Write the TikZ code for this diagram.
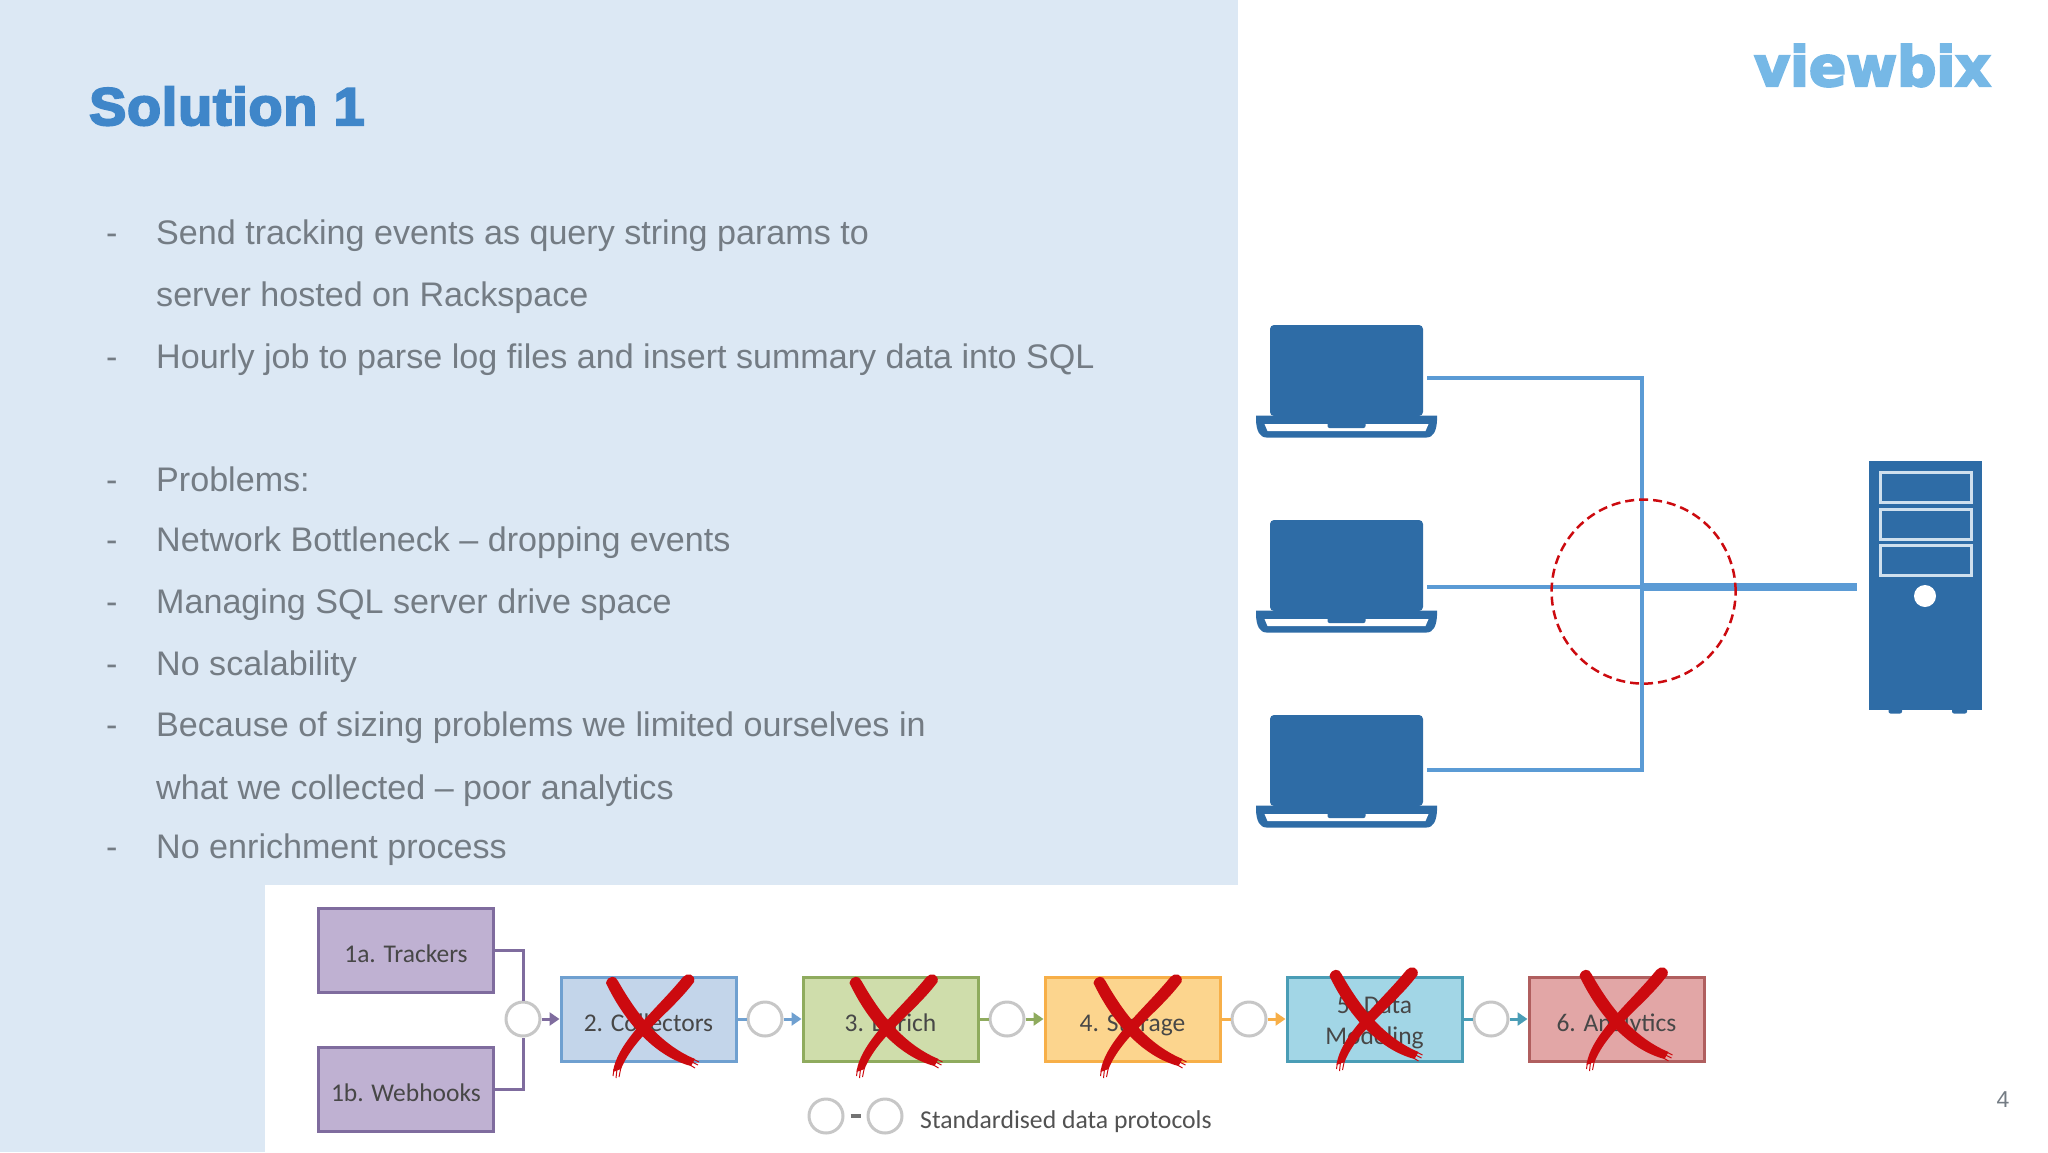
\documentclass[tikz,border=0pt]{standalone}
\usepackage{fontspec}
\setmainfont{Liberation Sans}
\newfontfamily\headfont[FakeBold=4,FakeStretch=1.05,LetterSpace=1.5]{Liberation Sans Bold}
\newfontfamily\logofont[FakeBold=4]{DejaVu Sans Bold}
\newfontfamily\boxfont{Carlito}
\usetikzlibrary{positioning,arrows.meta,calc}
\definecolor{panelblue}{HTML}{DCE8F4}
\definecolor{headblue}{HTML}{3F86C9}
\definecolor{logoblue}{HTML}{76B8E6}
\definecolor{bodygrey}{HTML}{747C84}
\definecolor{devblue}{HTML}{2E6CA6}
\definecolor{slotline}{HTML}{CFE0EE}
\definecolor{wireblue}{HTML}{5B9BD5}
\definecolor{crossred}{HTML}{CC0A0F}
\definecolor{srcline}{HTML}{7F6C9E}
\definecolor{srcfill}{HTML}{BFB1D2}
\definecolor{colline}{HTML}{6FA0D0}
\definecolor{colfill}{HTML}{C3D5EA}
\definecolor{enrline}{HTML}{8FAB5E}
\definecolor{enrfill}{HTML}{CFDDAB}
\definecolor{stoline}{HTML}{F7AF48}
\definecolor{stofill}{HTML}{FCD58E}
\definecolor{modline}{HTML}{4A9DB6}
\definecolor{modfill}{HTML}{A2D6E6}
\definecolor{analine}{HTML}{B05F5F}
\definecolor{anafill}{HTML}{E2A6A6}

\begin{document}
\begin{tikzpicture}[
  x=1pt, y=-1pt,
  node distance=64pt,
  every node/.style={inner sep=0pt},
  bodyline/.style={anchor=base west, font=\fontsize{34.1}{40}\selectfont, text=bodygrey},
  laptop/.style={fill=devblue, rounded corners=4pt, minimum width=153pt, minimum height=91pt, outer sep=4pt},
  wire/.style={draw=wireblue, line width=4pt},
  stage/.style={line width=3pt, minimum width=175pt, minimum height=84pt, align=center,
              text=black!72, font=\boxfont\fontsize{25.5}{31}\selectfont,
              text height=31pt, text depth=7pt},
  port/.style={circle, draw=black!22, fill=white, line width=3pt, minimum size=34pt},
  feed/.style={line width=3pt},
  arr/.style={line width=3pt, -{Triangle[length=10pt,width=13pt]}}
]
\useasboundingbox (0,0) rectangle (2048,1152);

% slide background
\fill[panelblue] (0,0) rectangle (1238,885);
\fill[panelblue] (0,885) rectangle (265,1152);

% heading and logo
\node[anchor=base west, font=\headfont\fontsize{53}{60}\selectfont, text=headblue] (title) at (89,125) {Solution 1};
\node[anchor=base west, font=\logofont\fontsize{55}{60}\selectfont, text=logoblue] (logo) at (1754,86) {viewbix};
\node[font=\fontsize{23}{26}\selectfont, text=bodygrey] (pagenum) at (2003,1100) {4};

% text with a dash
\foreach \y/\txt [count=\i] in {244/Send tracking events as query string params to,
    368/Hourly job to parse log files and insert summary data into SQL,
    491/Problems:,
    551/Network Bottleneck – dropping events,
    613/Managing SQL server drive space,
    675/No scalability,
    736.5/Because of sizing problems we limited ourselves in,
    858/No enrichment process}{
  \node[bodyline] (dash\i) at (106,\y) {-};
  \node[bodyline] (line\i) at (156,\y) {\txt};
}
% text going on from the line above
\node[bodyline] (more1) at (156,306) {server hosted on Rackspace};
\node[bodyline] (more2) at (156,799) {what we collected – poor analytics};

% laptops
\node[laptop] (lap1) at (1346.5,370.5) {};
\node[laptop, below=96pt of lap1] (lap2) {};
\node[laptop, below=96pt of lap2] (lap3) {};
\foreach \lap in {lap1,lap2,lap3}{
  \begin{scope}[shift={(\lap.center)}]
    \fill[devblue] (-90.5,45) -- (90.5,45) -- (90.5,50) .. controls (90,60) and (87,67) .. (80,67)
      -- (-80,67) .. controls (-87,67) and (-90,60) .. (-90.5,50) -- cycle;
    \fill[white] (-82,53.5) -- (82,53.5) -- (79,60.5) -- (-79,60.5) -- cycle;
    \fill[devblue, rounded corners=2pt] (-19,50) rectangle (19,57.5);
  \end{scope}
}

% server
\node[fill=devblue, minimum width=113pt, minimum height=249pt] (server) at (1925.5,585.5) {};
\fill[devblue, rounded corners=2pt] (1888.5,705) rectangle (1902,713.5);
\fill[devblue, rounded corners=2pt] (1952,705) rectangle (1967,713.5);
\foreach \top in {472,509,545.5}{
  \draw[slotline, line width=3pt] (1880,\top) rectangle (1971,\top+30);
}
\node[circle, fill=white, minimum size=22pt] (button) at (1925,596) {};

% wires
\coordinate (hub) at (1642,586.5);
\draw[wire] ([yshift=-7pt]lap1.east) -| (hub);
\draw[wire] ([yshift=-9pt]lap3.east) -| (hub);
\draw[wire] (hub -| lap2.east) -- (hub);
\draw[wire, line width=8pt, shorten >=12pt] (hub) -- (hub -| server.west);
\node[circle, draw=crossred, dash pattern=on 9pt off 5pt, line width=2.5pt, minimum size=184pt] (ring) at (1643.6,591.6) {};

% pipeline
\fill[white] (265,885) rectangle (1238,1152);
\node[stage, draw=colline, fill=colfill] (collect) at (648.5,1019) {2. Collectors};
\node[stage, draw=enrline, fill=enrfill, right=of collect] (enrich) {3. Enrich};
\node[stage, draw=stoline, fill=stofill, right=of enrich] (store) {4. Storage};
\node[stage, draw=modline, fill=modfill, right=of store, text height=50pt, text depth=0pt] (model) {5. Data\\Modeling};
\node[stage, draw=analine, fill=anafill, right=of model] (analyse) {6. Analytics};
\node[stage, draw=srcline, fill=srcfill] (track) at (406,950) {1a. Trackers};
\node[stage, draw=srcline, fill=srcfill] (hook) at (406,1089) {1b. Webhooks};

% ports sit just before each box
\node[port, left=18pt of collect] (port1) {};
\node[port, left=18pt of enrich] (port2) {};
\node[port, left=18pt of store] (port3) {};
\node[port, left=18pt of model] (port4) {};
\node[port, left=18pt of analyse] (port5) {};

\draw[feed, srcline] (track.east) -| (port1.north);
\draw[feed, srcline] (hook.east) -| (port1.south);
\draw[arr, srcline] (port1) -- (collect);
\draw[feed, colline] (collect) -- (port2);
\draw[arr, colline] (port2) -- (enrich);
\draw[feed, enrline] (enrich) -- (port3);
\draw[arr, enrline] (port3) -- (store);
\draw[feed, stoline] (store) -- (port4);
\draw[arr, stoline] (port4) -- (model);
\draw[feed, modline] (model) -- (port5);
\draw[arr, modline] (port5) -- (analyse);

% crosses
\foreach \cx/\cy in {645/1023,888.5/1023,1132.5/1023,1368.5/1016,1618.5/1016}{
  \begin{scope}[shift={(\cx,\cy)}]
    \fill[crossred] (-39,-40) .. controls (-37,-48) and (-29,-48) .. (-27,-42)
      .. controls (-11,-14) and (12,20) .. (50,36) -- (46,43)
      .. controls (8,33) and (-22,-4) .. (-39,-40) -- cycle;
    \fill[crossred] (38,-46) .. controls (42,-51) and (51,-49) .. (49,-41)
      .. controls (25,-9) and (-10,12) .. (-24,46) -- (-32,49)
      .. controls (-28,18) and (13,-15) .. (38,-46) -- cycle;
    \draw[crossred, line width=1pt] (-24,44) -- (-26,54) (-28,46) -- (-29,55) (-31,46) -- (-32,53);
    \draw[crossred, line width=1pt] (48,36) -- (54,39) (47,39) -- (53,42) (45,42) -- (50,45);
  \end{scope}
}

% legend
\node[port] (keya) at (826,1116) {};
\node[port] (keyb) at (885,1116) {};
\draw[line width=4pt, black!55, shorten <=6pt, shorten >=6pt] (keya) -- (keyb);
\node[anchor=base west, font=\boxfont\fontsize{25.7}{28}\selectfont, text=black!68] (keytext) at (920,1128) {Standardised data protocols};
\end{tikzpicture}
\end{document}
